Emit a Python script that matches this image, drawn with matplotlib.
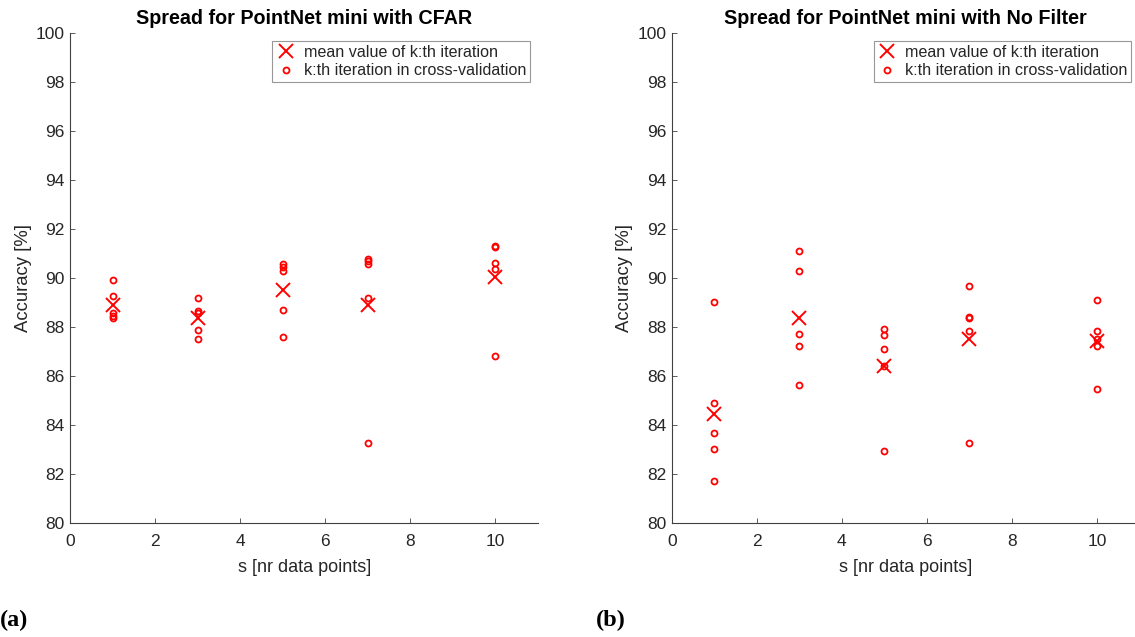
import matplotlib
matplotlib.use("Agg")
import matplotlib.pyplot as plt

plt.rcParams['font.family'] = ['Liberation Sans', 'DejaVu Sans']

# ---- data ----
s_values = [1, 3, 5, 7, 10]

cfar_iter = [
    [89.90, 89.26, 88.55, 88.44, 88.36],
    [89.16, 88.66, 88.58, 87.86, 87.49],
    [90.58, 90.44, 90.28, 88.68, 87.60],
    [90.79, 90.68, 90.58, 89.16, 83.27],
    [91.31, 91.28, 90.62, 90.35, 86.79],
]
cfar_mean = [88.89, 88.34, 89.49, 88.89, 90.05]

nofilt_iter = [
    [89.00, 84.88, 83.67, 83.03, 81.70],
    [91.08, 90.26, 87.69, 87.21, 85.63],
    [87.93, 87.66, 87.08, 86.38, 82.93],
    [89.65, 88.42, 88.36, 87.82, 83.26],
    [89.08, 87.82, 87.49, 87.22, 85.45],
]
nofilt_mean = [84.43, 88.36, 86.38, 87.49, 87.43]

titles = ["Spread for PointNet mini with CFAR", "Spread for PointNet mini with No Filter"]
legend_labels = ["mean value of k:th iteration", "k:th iteration in cross-validation"]
xlabel = "s [nr data points]"
ylabel = "Accuracy [%]"
xticks = [0, 2, 4, 6, 8, 10]
yticks = [80, 82, 84, 86, 88, 90, 92, 94, 96, 98, 100]
panel_tags = ["(a)", "(b)"]

W, H = 1135, 637
fig = plt.figure(figsize=(W / 100, H / 100), dpi=100)

axcol = '#404040'
txtcol = '#262626'
red = '#ff0000'

positions = [
    (70.3 / W, (H - 522.7) / H, (538 - 70.3) / W, (522.7 - 33) / H),
    (671.7 / W, (H - 522.7) / H, (538 - 70.3) / W, (522.7 - 33) / H),
]

for i, (iters, means) in enumerate([(cfar_iter, cfar_mean), (nofilt_iter, nofilt_mean)]):
    ax = fig.add_axes(positions[i])
    hx, = ax.plot(s_values, means, linestyle='none', marker='x', color=red,
                  markersize=10, markeredgewidth=1.4, clip_on=False)
    xs, ys = [], []
    for s, vals in zip(s_values, iters):
        for v in vals:
            xs.append(s)
            ys.append(v)
    ho, = ax.plot(xs, ys, linestyle='none', marker='o', markerfacecolor='none',
                  markeredgecolor=red, markersize=4.3, markeredgewidth=1.3, clip_on=False)
    ax.set_xlim(0, 11)
    ax.set_ylim(80, 100)
    ax.set_xticks(xticks)
    ax.set_yticks(yticks)
    for sp in ['top', 'right']:
        ax.spines[sp].set_visible(False)
    for sp in ['left', 'bottom']:
        ax.spines[sp].set_color(axcol)
        ax.spines[sp].set_linewidth(0.8)
    ax.tick_params(direction='in', length=3.5, width=0.6, color=axcol,
                   labelcolor=txtcol, labelsize=12.5)
    ax.tick_params(axis='x', pad=8)
    ax.tick_params(axis='y', pad=4)
    ax.set_title(titles[i], fontsize=14.2, fontweight='bold', color='black', pad=6.5)
    ax.set_xlabel(xlabel, fontsize=13, color=txtcol, labelpad=7)
    ax.set_ylabel(ylabel, fontsize=13.3, color=txtcol, labelpad=3)
    leg = ax.legend([hx, ho], legend_labels, loc='upper right', fontsize=11.6,
                    frameon=True, fancybox=False, edgecolor='#7f7f7f',
                    borderpad=0.25, handlelength=1.2, handletextpad=0.5,
                    labelspacing=0.2, borderaxespad=0,
                    bbox_to_anchor=(0.983, 0.9837))
    leg.get_frame().set_linewidth(0.8)
    for t in leg.get_texts():
        t.set_color(txtcol)

fig.text(0 / W, 1 - 620 / H, panel_tags[0], fontsize=17.5, fontweight='bold',
         family=['Liberation Serif', 'DejaVu Serif'], va='center', ha='left')
fig.text(596 / W, 1 - 620 / H, panel_tags[1], fontsize=17.5, fontweight='bold',
         family=['Liberation Serif', 'DejaVu Serif'], va='center', ha='left')

fig.savefig("out.png", dpi=100)
